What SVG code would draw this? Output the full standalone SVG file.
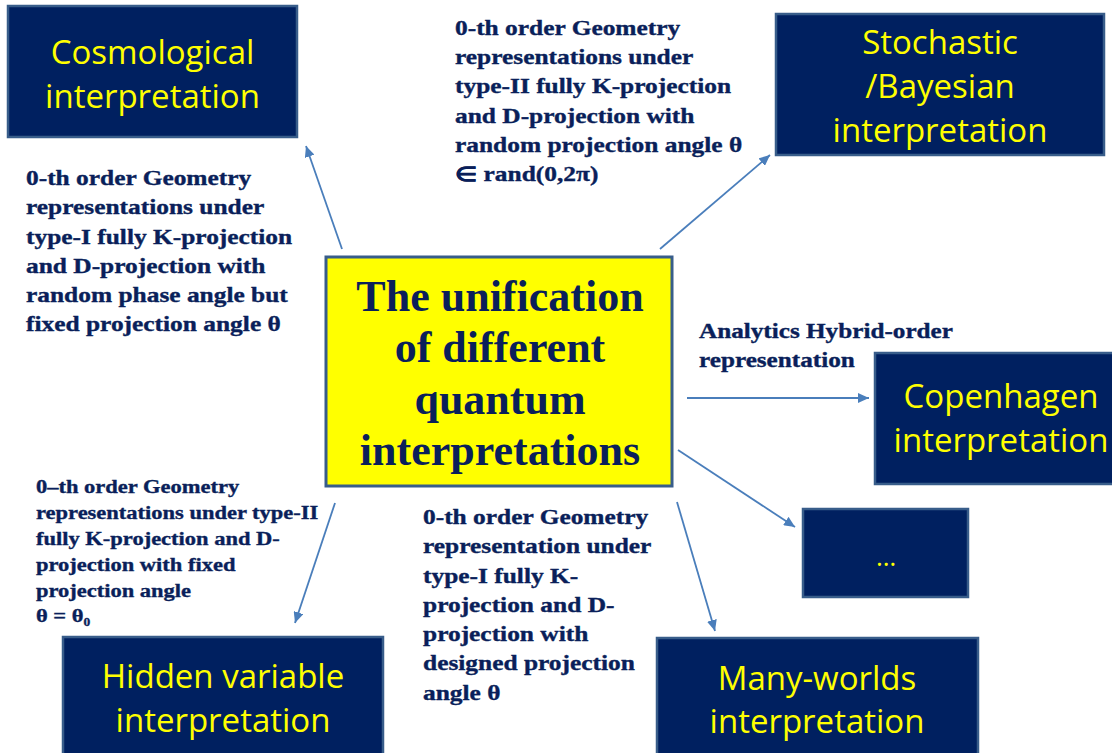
<svg xmlns="http://www.w3.org/2000/svg" width="1112" height="753" viewBox="0 0 1112 753">
<style>
.box{fill:#002060;stroke:#385d8a;stroke-width:2.5}
.center{fill:#ffff00;stroke:#385d8a;stroke-width:3}
.bt{font-family:"Open Sans","Liberation Sans",sans-serif;font-size:33px;fill:#ffff00;text-anchor:middle}
.dots{font-family:"Open Sans","Liberation Sans",sans-serif;font-size:26px;fill:#ffff00;text-anchor:middle}
.ct{font-family:"Liberation Serif","Times New Roman",serif;font-weight:bold;font-size:44px;fill:#0a1f5a;text-anchor:middle}
.at{font-family:"Liberation Serif","Times New Roman",serif;font-weight:bold;font-size:20px;fill:#0a1f5a;stroke:#0a1f5a;stroke-width:0.35}
.at2{font-family:"Liberation Serif","Times New Roman",serif;font-weight:bold;font-size:18px;fill:#0a1f5a;stroke:#0a1f5a;stroke-width:0.35}
.conn{stroke:#4a7ebb;stroke-width:1.8;fill:none;marker-end:url(#arr)}
</style>
<defs>
<marker id="arr" markerUnits="userSpaceOnUse" markerWidth="12" markerHeight="10" refX="11" refY="5" orient="auto">
<path d="M0,0 L11,5 L0,10 Z" fill="#4a7ebb"/>
</marker>
</defs>
<rect width="1112" height="753" fill="#ffffff"/>
<g id="connectors">
<line class="conn" x1="342" y1="249" x2="306" y2="146"/>
<line class="conn" x1="660" y1="249" x2="770" y2="155"/>
<line class="conn" x1="687" y1="398" x2="869" y2="398"/>
<line class="conn" x1="678" y1="450" x2="795" y2="527"/>
<line class="conn" x1="677" y1="502" x2="715" y2="631"/>
<line class="conn" x1="335" y1="503" x2="295" y2="623"/>
</g>
<g id="center">
<rect class="center" x="326" y="257" width="346" height="229"/>
<text class="ct" x="500" y="311">The unification</text>
<text class="ct" x="500" y="362">of different</text>
<text class="ct" x="500" y="414">quantum</text>
<text class="ct" x="500" y="465">interpretations</text>
</g>
<g id="cosmological">
<rect class="box" x="8" y="6" width="289" height="131"/>
<text class="bt" x="152.5" y="64">Cosmological</text>
<text class="bt" x="152.5" y="108">interpretation</text>
</g>
<g id="stochastic">
<rect class="box" x="776" y="14" width="328" height="141"/>
<text class="bt" x="940" y="54">Stochastic</text>
<text class="bt" x="940" y="98">/Bayesian</text>
<text class="bt" x="940" y="142">interpretation</text>
</g>
<g id="copenhagen">
<rect class="box" x="875" y="353" width="255" height="131"/>
<text class="bt" x="1001" y="408">Copenhagen</text>
<text class="bt" x="1001" y="452">interpretation</text>
</g>
<g id="ellipsis">
<rect class="box" x="803" y="509" width="165" height="88"/>
<text class="dots" x="886" y="566">…</text>
</g>
<g id="hidden-variable">
<rect class="box" x="63" y="637" width="320" height="130"/>
<text class="bt" x="223" y="688">Hidden variable</text>
<text class="bt" x="223" y="732">interpretation</text>
</g>
<g id="many-worlds">
<rect class="box" x="657" y="638" width="321" height="130"/>
<text class="bt" x="817" y="690">Many-worlds</text>
<text class="bt" x="817" y="733">interpretation</text>
</g>
<g id="label-cosmological" transform="translate(26,0) scale(1.27,1)">
<text class="at" x="0" y="185">0-th order Geometry</text>
<text class="at" x="0" y="214.3">representations under</text>
<text class="at" x="0" y="243.6">type-I fully K-projection</text>
<text class="at" x="0" y="272.9">and D-projection with</text>
<text class="at" x="0" y="302.2">random phase angle but</text>
<text class="at" x="0" y="331.5">fixed projection angle θ</text>
</g>
<g id="label-stochastic" transform="translate(455,0) scale(1.27,1)">
<text class="at" x="0" y="35">0-th order Geometry</text>
<text class="at" x="0" y="64.2">representations under</text>
<text class="at" x="0" y="93.4">type-II fully K-projection</text>
<text class="at" x="0" y="122.6">and D-projection with</text>
<text class="at" x="0" y="151.8">random projection angle θ</text>
<text class="at" x="0" y="181">∈ rand(0,2π)</text>
</g>
<g id="label-copenhagen" transform="translate(699,0) scale(1.26,1)">
<text class="at" x="0" y="338">Analytics  Hybrid-order</text>
<text class="at" x="0" y="367">representation</text>
</g>
<g id="label-hidden" transform="translate(36,0) scale(1.25,1)">
<text class="at2" x="0" y="493">0–th order Geometry</text>
<text class="at2" x="0" y="519">representations under type-II</text>
<text class="at2" x="0" y="545">fully K-projection and D-</text>
<text class="at2" x="0" y="571">projection with fixed</text>
<text class="at2" x="0" y="597">projection angle</text>
<text class="at2" x="0" y="622">θ = θ₀</text>
</g>
<g id="label-many-worlds" transform="translate(423,0) scale(1.27,1)">
<text class="at" x="0" y="524">0-th order Geometry</text>
<text class="at" x="0" y="553.3">representation under</text>
<text class="at" x="0" y="582.6">type-I fully K-</text>
<text class="at" x="0" y="611.9">projection and D-</text>
<text class="at" x="0" y="641.2">projection with</text>
<text class="at" x="0" y="670.5">designed projection</text>
<text class="at" x="0" y="700">angle θ</text>
</g>
</svg>
